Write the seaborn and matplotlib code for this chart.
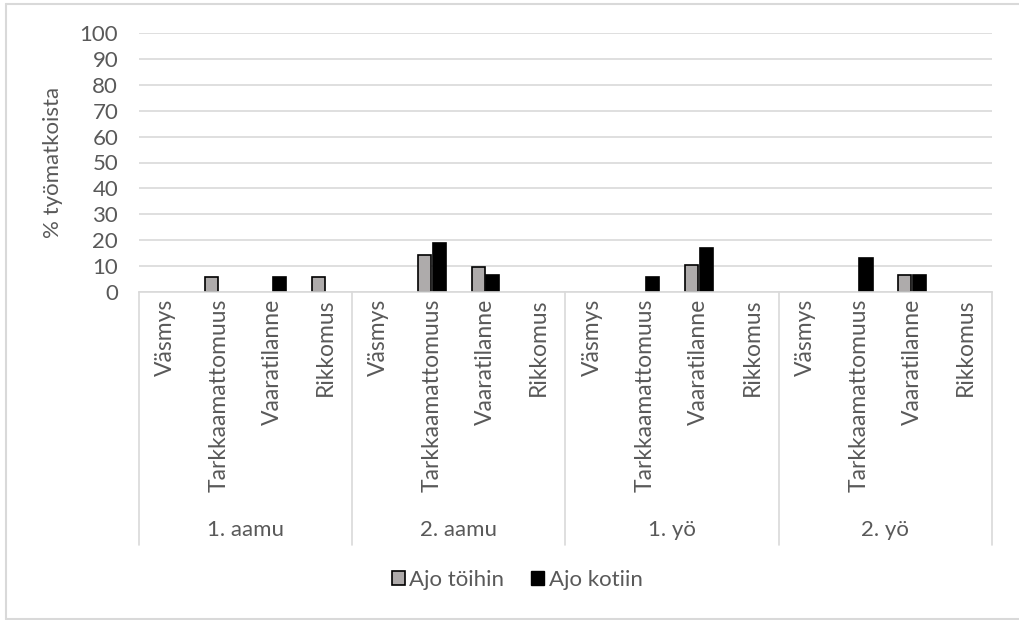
import matplotlib
matplotlib.use("Agg")
import matplotlib.pyplot as plt
from matplotlib.patches import Patch
from matplotlib.lines import Line2D
import seaborn as sns
import pandas as pd

# Shift groups and incident types
groups = ["1. aamu", "2. aamu", "1. yö", "2. yö"]
types = ["Väsmys", "Tarkkaamattomuus", "Vaaratilanne", "Rikkomus"]
series = ["Ajo töihin", "Ajo kotiin"]

# Share of commutes (%) per group, in the order of `types`
to_work = [
    [0, 5.6, 0, 5.6],     # 1. aamu
    [0, 14.3, 9.5, 0],    # 2. aamu
    [0, 0, 10.6, 0],      # 1. yö
    [0, 0, 6.6, 0],       # 2. yö
]
to_home = [
    [0, 0, 5.6, 0],       # 1. aamu
    [0, 18.8, 6.5, 0],    # 2. aamu
    [0, 5.6, 16.8, 0],    # 1. yö
    [0, 13.3, 6.6, 0],    # 2. yö
]

rows = []
for gi, g in enumerate(groups):
    for ti, t in enumerate(types):
        key = f"{g}|{t}"
        rows.append({"cat": key, "series": series[0], "value": to_work[gi][ti]})
        rows.append({"cat": key, "series": series[1], "value": to_home[gi][ti]})
df = pd.DataFrame(rows)

sns.set_theme(style="white")
plt.rcParams["font.family"] = ["Lato", "DejaVu Sans"]

TEXT = "#595959"
GRID = "#D9D9D9"
GRAY = "#AEAAAA"
FS = 16

fig = plt.figure(figsize=(10.2, 6.2), dpi=100)
ax = fig.add_axes([139 / 1020, 1 - 292 / 620, (992 - 139) / 1020, (292 - 33) / 620])

sns.barplot(
    data=df, x="cat", y="value", hue="series",
    palette=[GRAY, "black"], width=0.55, gap=0.1,
    edgecolor="black", linewidth=1.2, legend=False, ax=ax,
)
# zero-valued bars leave no outline
for p in ax.patches:
    if p.get_height() == 0:
        p.set_visible(False)

ax.set_ylim(0, 100)
ax.set_yticks(range(0, 101, 10))
ax.set_xlim(-0.5, len(groups) * len(types) - 0.5)
ax.yaxis.grid(True, color=GRID, linewidth=1.2)
ax.set_axisbelow(True)
for s in ["left", "right", "top"]:
    ax.spines[s].set_visible(False)
ax.spines["bottom"].set_color(GRID)
ax.spines["bottom"].set_linewidth(1.2)

ax.tick_params(axis="y", length=0, pad=15, labelsize=FS, labelcolor=TEXT)
ax.tick_params(axis="x", length=0, pad=5, labelsize=16.5, labelcolor=TEXT)
ax.set_xticks(range(len(groups) * len(types)))
ax.set_xticklabels(types * len(groups), rotation=90, va="top", ha="center")
ax.set_xlabel("")
ax.set_ylabel("% työmatkoista", fontsize=FS, color=TEXT, labelpad=12)

# Second level of the category axis: group names and separators
trans = ax.get_xaxis_transform()
n = len(types)
for gi, g in enumerate(groups):
    ax.text(gi * n + (n - 1) / 2, -0.919, g, transform=trans,
            ha="center", va="center", fontsize=FS, color=TEXT)
for b in range(len(groups) + 1):
    ax.add_line(Line2D([b * n - 0.5, b * n - 0.5], [0, -0.977], transform=trans,
                       color=GRID, linewidth=1.2, clip_on=False))

handles = [Patch(facecolor=GRAY, edgecolor="black", linewidth=1.2, label=series[0]),
           Patch(facecolor="black", edgecolor="black", label=series[1])]
fig.legend(handles=handles, loc="center", bbox_to_anchor=(0.507, 1 - 580 / 620),
           ncol=2, frameon=False, fontsize=FS, labelcolor=TEXT,
           handlelength=0.6, handleheight=0.6, handletextpad=0.2, columnspacing=1.2)

# Chart-area border
fx = lambda px: px / 1020
fy = lambda py: 1 - py / 620
for xs, ys in [([6, 6], [4, 619]), ([6, 1020], [4, 4]), ([6, 1020], [619, 619])]:
    fig.add_artist(Line2D([fx(x) for x in xs], [fy(y) for y in ys],
                          color=GRID, linewidth=1.5))

fig.savefig("out.png", dpi=100, facecolor="white")
